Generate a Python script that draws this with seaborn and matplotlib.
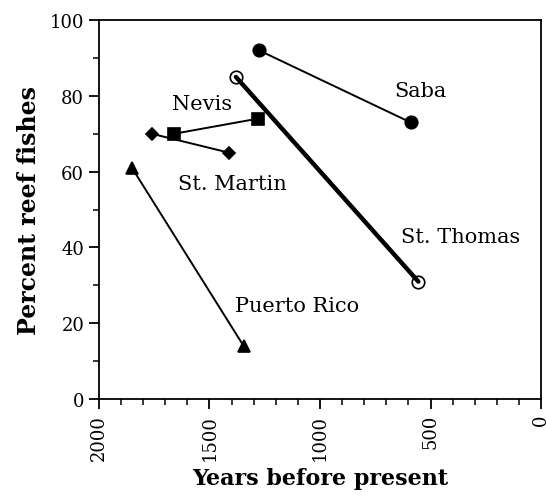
"""Percent reef fishes in archaeological assemblages vs. age, by island."""

import matplotlib
matplotlib.use("Agg")
import matplotlib.pyplot as plt
import pandas as pd
import seaborn as sns
from matplotlib.ticker import MultipleLocator

sites = ["Saba", "St. Thomas", "Nevis", "St. Martin", "Puerto Rico"]
years = {
    "Saba": [1275, 590],
    "St. Thomas": [1380, 555],
    "Nevis": [1660, 1280],
    "St. Martin": [1760, 1410],
    "Puerto Rico": [1850, 1345],
}
percent = {
    "Saba": [92, 73],
    "St. Thomas": [85, 31],
    "Nevis": [70, 74],
    "St. Martin": [70, 65],
    "Puerto Rico": [61, 14],
}
label_pos = {
    "Saba": (545, 81.5),
    "St. Thomas": (365, 43),
    "Nevis": (1533, 78),
    "St. Martin": (1397, 57),
    "Puerto Rico": (1102, 24.8),
}

styles = {
    "Saba": dict(marker="o", ms=9, mfc="black", lw=1.4),
    "St. Thomas": dict(marker="o", ms=9, mfc="none", lw=3.2),
    "Nevis": dict(marker="s", ms=9, mfc="black", lw=1.4),
    "St. Martin": dict(marker="D", ms=6, mfc="black", lw=1.4),
    "Puerto Rico": dict(marker="^", ms=8, mfc="black", lw=1.4),
}

df = pd.concat(
    [pd.DataFrame({"site": s, "year": years[s], "pct": percent[s]}) for s in sites],
    ignore_index=True,
)

sns.set_style("ticks", {"axes.edgecolor": "black", "text.color": "black",
                        "axes.labelcolor": "black", "xtick.color": "black",
                        "ytick.color": "black"})
plt.rcParams["font.family"] = ["DejaVu Serif"]

fig = plt.figure(figsize=(5.46, 5.02), dpi=100)
ax = fig.add_axes([0.181, 0.203, 0.81, 0.755])

for s in sites:
    st = styles[s]
    sns.lineplot(
        data=df[df.site == s], x="year", y="pct", ax=ax, color="black",
        lw=st["lw"], marker=st["marker"], markersize=st["ms"],
        markerfacecolor=st["mfc"], markeredgecolor="black",
        markeredgewidth=1.2, legend=False, solid_capstyle="round",
    )
    ax.text(*label_pos[s], s, ha="center", va="center", fontsize=15, color="black")

ax.set_xlim(2000, 0)
ax.set_ylim(0, 100)
ax.xaxis.set_major_locator(MultipleLocator(500))
ax.xaxis.set_minor_locator(MultipleLocator(100))
ax.yaxis.set_major_locator(MultipleLocator(20))
ax.yaxis.set_minor_locator(MultipleLocator(10))
ax.tick_params(which="major", direction="out", length=7, width=1.3, labelsize=13,
               colors="black")
ax.tick_params(which="minor", direction="out", length=4, width=1.1, colors="black")
ax.tick_params(axis="x", labelrotation=90)
for sp in ax.spines.values():
    sp.set_linewidth(1.3)
    sp.set_color("black")
    sp.set_visible(True)

ax.set_xlabel("Years before present", fontsize=16, fontweight="bold", labelpad=5,
              color="black")
ax.set_ylabel("Percent reef fishes", fontsize=17, fontweight="bold", labelpad=6,
              color="black")

fig.savefig("out.png", dpi=100)
